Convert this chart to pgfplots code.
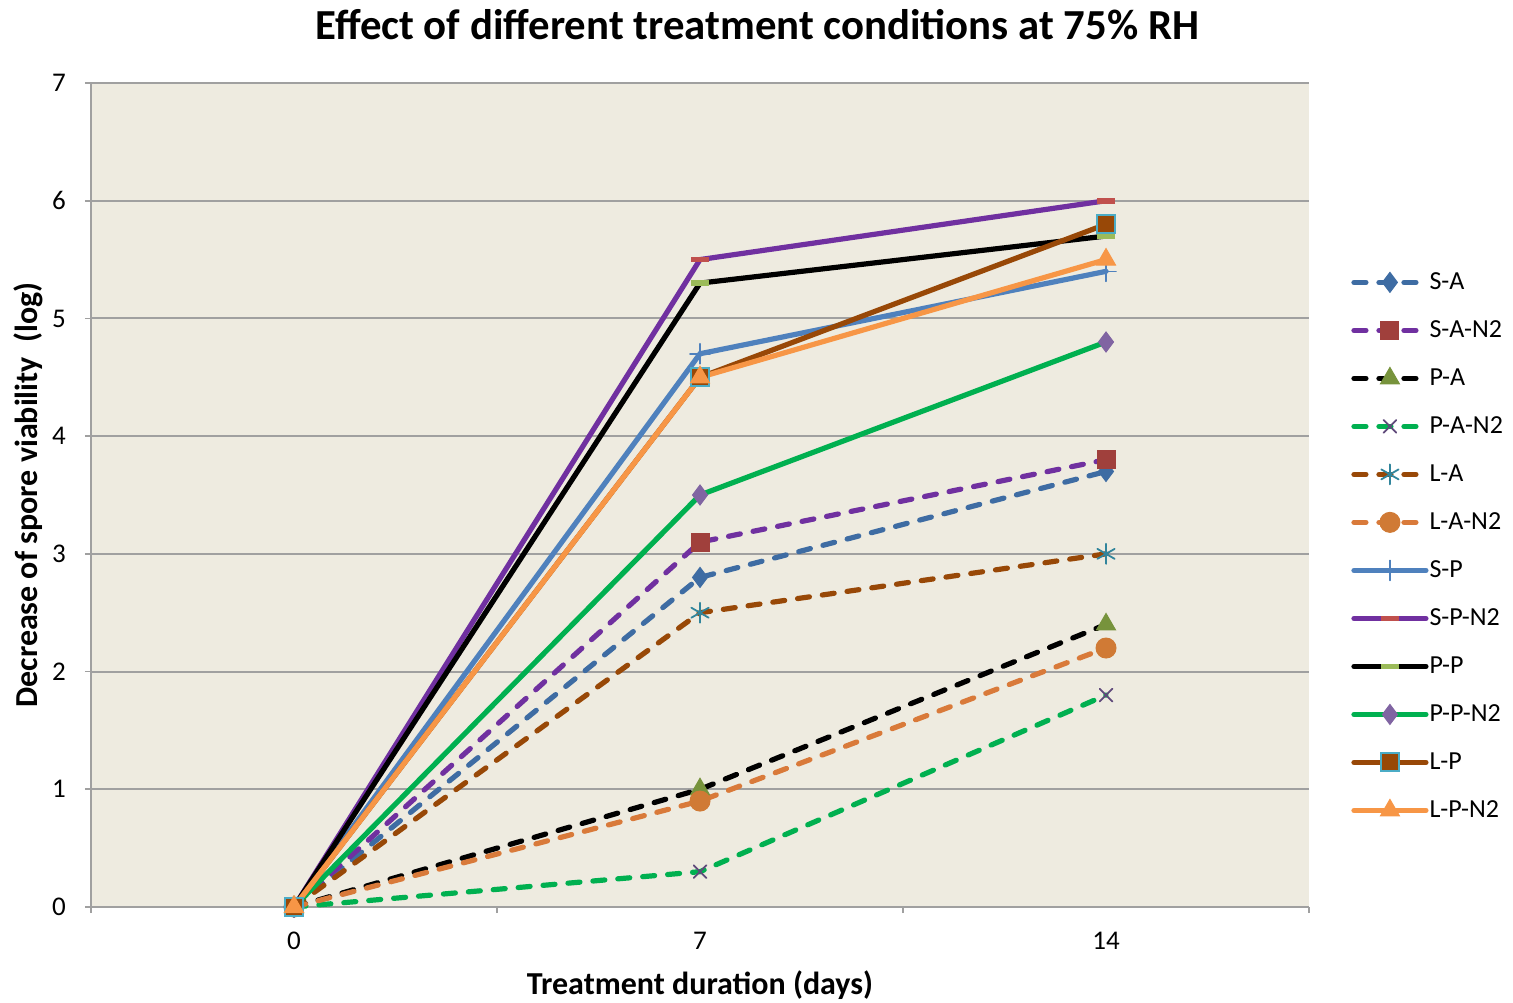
\documentclass[border=0pt]{standalone}
\usepackage{pgfplots}
\pgfplotsset{compat=1.18}
\usepackage{fontspec}
\setmainfont{Carlito}
\definecolor{bgc}{HTML}{EEEBE0}
\definecolor{gridc}{HTML}{A0A0A0}
\definecolor{cSA}{HTML}{3E6CA3}
\definecolor{cPurp}{HTML}{7030A0}
\definecolor{cRed}{HTML}{A0403C}
\definecolor{cOlive}{HTML}{77933C}
\definecolor{cGreen}{HTML}{00B050}
\definecolor{cViolet}{HTML}{604A7B}
\definecolor{cBrown}{HTML}{984807}
\definecolor{cTeal}{HTML}{31859C}
\definecolor{cOrD}{HTML}{D97A3A}
\definecolor{cOrM}{HTML}{D07A35}
\definecolor{cBlue}{HTML}{4F81BD}
\definecolor{cRed2}{HTML}{C0504D}
\definecolor{cLime}{HTML}{9BBB59}
\definecolor{cLav}{HTML}{8064A2}
\definecolor{cSky}{HTML}{4BACC6}
\definecolor{cOrange}{HTML}{F79646}
\begin{document}
\begin{tikzpicture}
\useasboundingbox (-45.5pt,-47.5pt) rectangle (711pt,453.5pt);
\begin{axis}[
  at={(0,0)}, anchor=south west,
  scale only axis, width=609pt, height=412pt,
  axis background/.style={fill=bgc},
  xmin=-0.5, xmax=2.5, ymin=0, ymax=7,
  xtick={0,1,2}, xticklabels={0,7,14},
  minor xtick={-0.5,0.5,1.5,2.5},
  ytick={0,1,...,7},
  major x tick style={draw=none},
  minor tick length=3pt, major tick length=3pt,
  tick align=outside,
  tick style={gridc, line width=0.8pt},
  ymajorgrids, major grid style={gridc, line width=1pt},
  axis x line*=bottom, axis y line*=left,
  axis line style={gridc, line width=1pt, -},
  ticklabel style={font=\fontsize{13.5}{15}\selectfont},
  xticklabel style={yshift=-6pt},
  yticklabel style={xshift=-6pt},
  /pgf/number format/assume math mode=true,
  xlabel={\textbf{Treatment duration (days)}},
  ylabel={\textbf{Decrease of spore viability\ \ (log)}},
  label style={font=\fontsize{16}{18}\selectfont},
  xlabel style={at={(axis description cs:0.5,0)}, anchor=center, yshift=-39pt},
  ylabel style={at={(axis description cs:-0.0517,0.5)}, anchor=center},
  clip=false,
  every axis plot/.append style={line width=2.6pt},
  legend style={at={(axis description cs:1.0295,0.7803)}, anchor=north west, draw=none, fill=none,
    font=\fontsize{13}{15}\selectfont, row sep=10.1pt, legend cell align=left,
    nodes={inner xsep=0.5pt}},
  legend image code/.code={\draw[mark repeat=2,mark phase=2] plot coordinates {(0pt,0pt)(18pt,0pt)(36pt,0pt)};},
]
\tikzset{dsh/.style={dash pattern=on 6pt off 6.5pt, line cap=round}}
% dashed series
\addplot[cSA, dsh, mark=diamond*, mark size=5pt, mark options={solid, fill=cSA, draw=cSA, line width=0.5pt}] coordinates {(0,0) (1,2.8) (2,3.7)};
\addlegendentry{S-A}
\addplot[cPurp, dsh, mark=square*, mark size=4.5pt, mark options={solid, fill=cRed, draw=cRed, line width=0.5pt}] coordinates {(0,0) (1,3.1) (2,3.8)};
\addlegendentry{S-A-N2}
\addplot[black, dsh, mark=triangle*, mark size=5.5pt, mark options={solid, fill=cOlive, draw=cOlive, line width=0.5pt}] coordinates {(0,0) (1,1.0) (2,2.4)};
\addlegendentry{P-A}
\addplot[cGreen, dsh, mark=x, mark size=4.5pt, mark options={solid, draw=cViolet, line width=0.9pt}] coordinates {(0,0) (1,0.3) (2,1.8)};
\addlegendentry{P-A-N2}
\addplot[cBrown, dsh, mark=asterisk, mark size=5pt, mark options={solid, draw=cTeal, line width=0.9pt}] coordinates {(0,0) (1,2.5) (2,3.0)};
\addlegendentry{L-A}
\addplot[cOrD, dsh, mark=*, mark size=5pt, mark options={solid, fill=cOrM, draw=cOrM, line width=0.5pt}] coordinates {(0,0) (1,0.9) (2,2.2)};
\addlegendentry{L-A-N2}
% solid series
\addplot[cBlue, line cap=round, mark=+, mark size=5pt, mark options={solid, draw=cBlue, line width=0.8pt}] coordinates {(0,0) (1,4.7) (2,5.4)};
\addlegendentry{S-P}
\addplot[cPurp, line cap=round, mark=-, mark size=4.5pt, mark options={solid, draw=cRed2, line width=2.8pt, line cap=butt}] coordinates {(0,0) (1,5.5) (2,6.0)};
\addlegendentry{S-P-N2}
\addplot[black, line cap=round, mark=-, mark size=4.5pt, mark options={solid, draw=cLime, line width=2.8pt, line cap=butt}] coordinates {(0,0) (1,5.3) (2,5.7)};
\addlegendentry{P-P}
\addplot[cGreen, line cap=round, mark=diamond*, mark size=5pt, mark options={solid, fill=cLav, draw=cLav, line width=0.5pt}] coordinates {(0,0) (1,3.5) (2,4.8)};
\addlegendentry{P-P-N2}
\addplot[cBrown, line cap=round, mark=square*, mark size=4.5pt, mark options={solid, fill=cBrown, draw=cSky, line width=1pt}] coordinates {(0,0) (1,4.5) (2,5.8)};
\addlegendentry{L-P}
\addplot[cOrange, line cap=round, mark=triangle*, mark size=5.5pt, mark options={solid, fill=cOrange, draw=cOrange, line width=0.5pt}] coordinates {(0,0) (1,4.5) (2,5.5)};
\addlegendentry{L-P-N2}
\node[font=\bfseries\fontsize{21.4}{24}\selectfont, anchor=center] at (axis description cs:0.547,1.0705) {Effect of different treatment conditions at 75\% RH};
\end{axis}
\end{tikzpicture}
\end{document}
